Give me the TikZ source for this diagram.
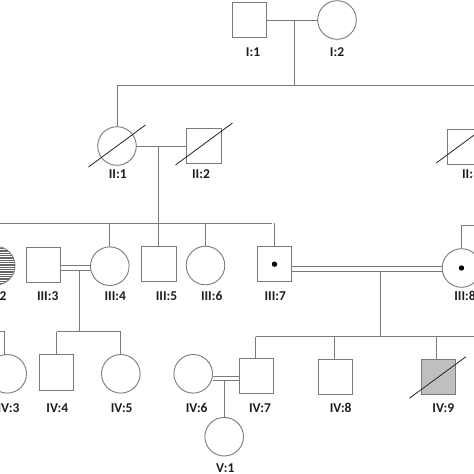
\documentclass[tikz,border=0pt]{standalone}
\usepackage{fontspec}
\setmainfont{Carlito}
\usetikzlibrary{calc}
\definecolor{ln}{HTML}{7A7A7A}
\definecolor{txt}{HTML}{1E1E1E}
\tikzset{
  rel/.style={draw=ln,line width=0.9pt},
  sq/.style={rectangle,draw=ln,line width=0.9pt,fill=white,minimum width=34.4pt,minimum height=35.4pt,inner sep=0pt,outer sep=0pt},
  ci/.style={circle,draw=ln,line width=0.9pt,fill=white,minimum size=38.6pt,inner sep=0pt,outer sep=0pt},
  lab/.style={text=txt,font=\bfseries\fontsize{13.5}{15}\selectfont,inner sep=0pt},
  strike/.style={draw=black!85,line width=0.8pt},
  dotc/.style={fill=black}
}
\begin{document}
\begin{tikzpicture}[x=1pt,y=-1pt]
\useasboundingbox (0,0) rectangle (474,474);
\clip (0,0) rectangle (474,474);
\fill[white] (0,0) rectangle (474,474);
% coordinates
\coordinate (m1) at (294.7,20);
\coordinate (s1) at (294.7,85.7);
\coordinate (s1r) at (490,85.7);
\coordinate (m2) at (158.7,146);
\coordinate (s2l) at (-20,223.3);
\coordinate (s2r) at (271.7,223.3);
\coordinate (m3) at (79,270);
\coordinate (s3) at (79,331.7);
\coordinate (m4) at (380,271);
\coordinate (s4) at (380,336.7);
\coordinate (s4r) at (490,336.7);
\coordinate (p8) at (461.5,225);
\coordinate (p8r) at (490,225);
\coordinate (m5) at (224.3,380);
\coordinate (p3) at (4,331.7);
\coordinate (p3l) at (-20,331.7);
% lines behind
\draw[rel] (m1) -- (s1);
\draw[rel] (s1 -| 117,0) -- (s1r);
\draw[rel] (117,85.7) -- (117,127);
\draw[rel] (m2) -- (158.7,223.3);
\draw[rel] (s2l) -- (s2r);
\draw[rel] (109.5,223.3) -- (109.5,247);
\draw[rel] (205.5,223.3) -- (205.5,247);
\draw[rel] (274.5,223.3) -- (274.5,247);
\draw[rel] (158.7,223.3) -- (158.7,247);
\draw[rel] (m3) -- (s3);
\draw[rel] (56.5,331.7) -- (120.8,331.7);
\draw[rel] (56.5,331.7) -- (56.5,355);
\draw[rel] (120.8,331.7) -- (120.8,355);
\draw[rel] (p3l) -- (p3) -- (4,356);
\draw[rel] (m4) -- (s4);
\draw[rel] (255.7,336.7) -- (s4r);
\draw[rel] (255.7,336.7) -- (255.7,359);
\draw[rel] (334.7,336.7) -- (334.7,360);
\draw[rel] (436.7,336.7) -- (436.7,360);
\draw[rel] (p8r) -- (p8) -- (461.5,249);
\draw[rel] (m5) -- (224.3,418);
% Generation I
\node[sq] (I1) at (249.5,20) {};
\node[ci] (I2) at (337,20) {};
\draw[rel] (I1) -- (I2);
\node[lab] at (253,52.3) {I:1};
\node[lab] at (337,52.3) {I:2};
% Generation II
\node[ci] (II1) at (117,146) {};
\node[sq] (II2) at (204,146) {};
\draw[rel] (II1) -- (II2);
\draw[strike] ($(II1)+(-28.5,21)$) -- ($(II1)+(28.5,-21)$);
\draw[strike] ($(II2)+(-28.5,19)$) -- ($(II2)+(28.5,-23)$);
\node[sq] (II3) at (464.7,147) {};
\draw[strike] ($(II3)+(-28.5,16)$) -- ($(II3)+(28.5,-26)$);
\node[lab] at (117.7,174) {II:1};
\node[lab] at (201,174) {II:2};
\node[lab] at (471,174) {II:3};
% Generation III
\node[ci,path picture={\foreach \k in {-11,...,11} \draw[line width=0.6pt,black!60] ([yshift=\k*1.75pt]path picture bounding box.west) -- ([yshift=\k*1.75pt]path picture bounding box.east);}] (III2) at (-4.3,265.7) {};
\node[sq] (III3) at (43.5,265) {};
\node[ci] (III4) at (109.8,266.2) {};
\node[sq] (III5) at (158.8,264.2) {};
\node[ci] (III6) at (205.5,265.5) {};
\node[sq] (III7) at (274.5,264.2) {};
\node[ci] (III8) at (461.5,268) {};
\fill[dotc] (III7) circle (2.7);
\fill[dotc] (III8) circle (2.7);
\draw[rel] (III3.east |- 0,265) -- (III4.west |- 0,265);
\draw[rel] (III3.east |- 0,270) -- (III4.west |- 0,270);
\draw[rel] (III7.east |- 0,266) -- (III8.west |- 0,266);
\draw[rel] (III7.east |- 0,271) -- (III8.west |- 0,271);
\node[lab] at (-4.3,295.7) {III:2};
\node[lab] at (47.7,295.7) {III:3};
\node[lab] at (115.3,295.7) {III:4};
\node[lab] at (166.5,295.7) {III:5};
\node[lab] at (211.7,295.7) {III:6};
\node[lab] at (275.3,295.7) {III:7};
\node[lab] at (465,295.7) {III:8};
% Generation IV
\node[ci] (IV3) at (7.2,373.8) {};
\node[sq] (IV4) at (56.5,372.3) {};
\node[ci] (IV5) at (120.8,373.8) {};
\node[ci] (IV6) at (193.2,373.8) {};
\node[sq] (IV7) at (256.2,376.2) {};
\node[sq] (IV8) at (335.5,377.2) {};
\node[sq,fill=black!25] (IV9) at (438.5,377.2) {};
\draw[strike] ($(IV9)+(-29,21)$) -- ($(IV9)+(27.5,-20.5)$);
\draw[rel] (IV6.east |- 0,376) -- (IV7.west |- 0,376);
\draw[rel] (IV6.east |- 0,380) -- (IV7.west |- 0,380);
\node[lab] at (8.5,407.7) {IV:3};
\node[lab] at (57.3,407.7) {IV:4};
\node[lab] at (121.7,407.7) {IV:5};
\node[lab] at (196.7,407.7) {IV:6};
\node[lab] at (260,407.7) {IV:7};
\node[lab] at (340.7,407.7) {IV:8};
\node[lab] at (443.3,407.7) {IV:9};
% Generation V
\node[ci] (V1) at (224.2,436.7) {};
\node[lab] at (225.3,468.3) {V:1};
\end{tikzpicture}
\end{document}
